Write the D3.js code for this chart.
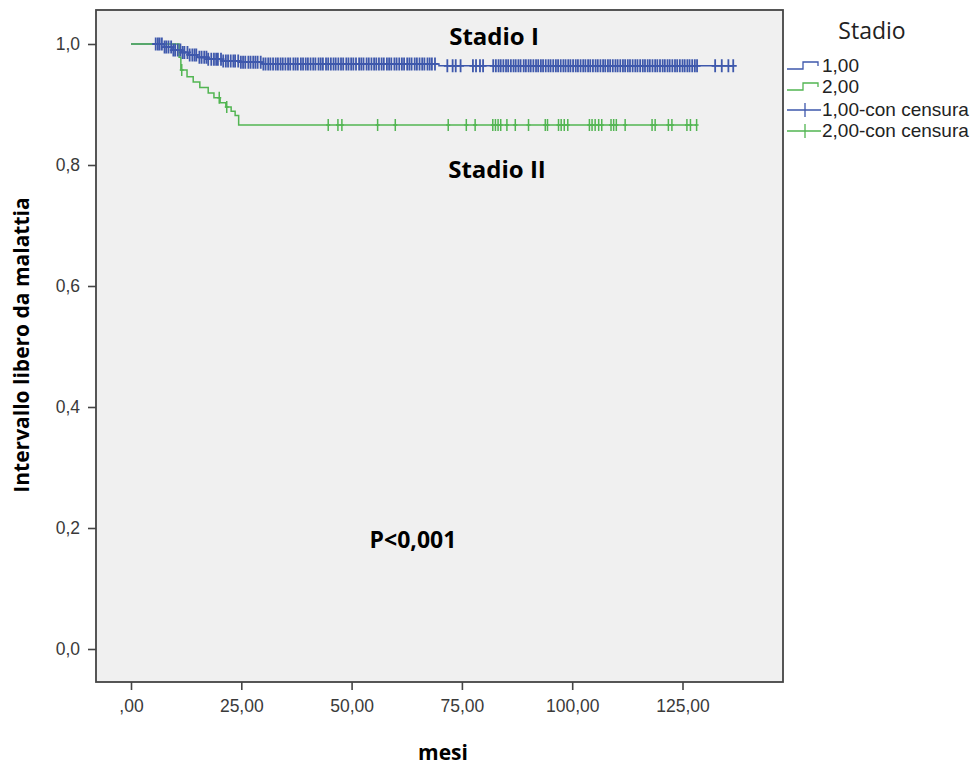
<html>
 <head>
 <title>Intervallo libero da malattia</title>
 <script src="https://d3js.org/d3.v7.min.js" charset="utf-8"></script>
<style>
body {
 margin: 0;
 background: white;
}
text {
 font-family: "Liberation Sans", Arial, sans-serif;
}
.bold {
 font-family: "Open Sans", sans-serif;
 font-weight: bold;
}
</style>
 </head>
 <body>
 <script>
   // stage I (blue) : survival steps [months, value]
   var stage1Steps = [[7.5,0.995],[9.5,0.990],[11.5,0.986],[13.0,0.982],[15.0,0.978],[17.5,0.975],[20.5,0.972],[24.5,0.970],[30.0,0.967],[69.8,0.964]];
   var stage1End = 136.5;
   var stage1Censored = [5.6,6.1,6.5,7.0,7.6,8.0,8.5,9.1,9.6,10.0,10.6,11.2,11.7,12.1,12.8,13.3,13.9,14.4,14.8,15.5,16.0,16.6,17.1,17.5,18.2,18.8,19.3,19.7,20.4,20.9,21.5,22.0,22.6,23.2,23.6,24.3,24.9,25.4,25.9,26.6,27.1,27.7,28.2,28.7,29.4,30.0,30.5,31.1,31.6,32.2,32.8,33.3,33.9,34.4,35.0,35.6,36.1,36.8,37.3,37.8,38.5,39.0,39.6,40.1,40.7,41.3,41.8,42.5,43.0,43.5,44.2,44.7,45.3,45.9,46.4,47.0,47.6,48.1,48.8,49.3,49.9,50.4,51.0,51.7,52.2,52.7,53.4,53.9,54.5,55.1,55.6,56.2,56.8,57.3,58.0,58.5,59.0,59.7,60.2,60.8,61.4,61.9,62.6,63.1,63.6,64.3,64.8,65.4,66.0,66.5,67.2,67.7,68.2,68.9,
     71.7,72.9,73.6,74.7,77.5,78.2,79.1,79.8,
     82.1,82.7,83.3,83.8,84.4,85.0,85.5,86.1,86.7,87.2,87.8,88.3,89.0,89.5,90.1,90.6,91.2,91.8,92.3,92.9,93.4,94.0,94.6,95.1,95.7,96.3,96.8,97.4,98.0,98.5,99.1,99.6,100.2,100.8,101.3,101.9,102.5,103.0,103.6,104.1,104.7,105.3,105.8,106.4,107.0,107.5,108.1,108.6,109.2,109.8,110.3,110.9,111.5,112.0,112.6,113.1,113.7,114.3,114.8,115.4,116.0,116.5,117.1,117.6,118.2,118.8,119.3,119.9,120.5,121.0,121.6,122.1,122.7,123.3,123.8,124.4,125.0,125.5,126.1,126.6,127.2,127.8,128.3,
     132.4,133.9,135.4,136.5];

   // stage II (green)
   var stage2Steps = [[10.9,0.978],[11.3,0.957],[12.7,0.946],[14.1,0.937],[15.6,0.928],[17.5,0.919],[18.8,0.911],[20.2,0.903],[21.5,0.896],[22.7,0.889],[23.6,0.882],[24.4,0.866]];
   var stage2End = 128.3;
   var stage2Censored = [11.5,20.0,21.7,44.7,46.9,47.8,55.9,59.9,71.9,76.0,78.0,82.0,82.6,83.2,83.8,85.2,87.1,90.1,93.9,94.4,96.9,97.5,98.2,99.0,103.9,104.5,105.2,106.0,106.7,108.8,109.4,110.0,112.0,118.1,118.8,121.8,122.6,126.0,126.8,128.2];

   var xTicks = [0,25,50,75,100,125];
   var xTickLabels = [",00","25,00","50,00","75,00","100,00","125,00"];
   var yTicks = [0,0.2,0.4,0.6,0.8,1.0];
   var yTickLabels = ["0,0","0,2","0,4","0,6","0,8","1,0"];
   var legendLabels = ["1,00","2,00","1,00-con censura","2,00-con censura"];

   var blue = "#3e58ac";
   var green = "#52b552";

   var width = 974;
   var height = 769;

   // plot frame (names avoid window.top)
   var frameL = 96, frameT = 10, frameR = 783, frameB = 682;

   var x = d3.scaleLinear().domain([0,125]).range([131,682.5]);
   var y = d3.scaleLinear().domain([0,1]).range([649,44]);

   var svg = d3.select( "body" )
    .append( "svg" )
    .attr( "width", width )
    .attr( "height", height );

   svg.append("rect")
    .attr("x", frameL).attr("y", frameT)
    .attr("width", frameR-frameL).attr("height", frameB-frameT)
    .attr("fill", "#f0f0f0")
    .attr("stroke", "#444")
    .attr("stroke-width", 1.8);

   // axes
   svg.append("g")
    .attr("transform", "translate(" + frameL + ",0)")
    .call(d3.axisLeft(y).tickValues(yTicks).tickSize(8).tickPadding(8)
      .tickFormat(function(d,i){ return yTickLabels[i]; }));
   svg.append("g")
    .attr("transform", "translate(0," + frameB + ")")
    .call(d3.axisBottom(x).tickValues(xTicks).tickSize(8).tickPadding(10)
      .tickFormat(function(d,i){ return xTickLabels[i]; }));
   svg.selectAll(".domain").remove();
   svg.selectAll(".tick line").attr("stroke", "#444").attr("stroke-width", 1.6);
   svg.selectAll(".tick text").attr("fill", "#3a3a3a").style("font-size", "17.5px")
    .style("font-family", "'Liberation Sans', Arial, sans-serif");

   // step function lookup
   function valueAt(steps, t) {
     var v = 1;
     steps.forEach(function(s){ if (s[0] <= t) v = s[1]; });
     return v;
   }
   function kmPoints(steps, end) {
     var pts = [[0,1]];
     steps.forEach(function(s){ pts.push([s[0], s[1]]); });
     pts.push([end, steps[steps.length-1][1]]);
     return pts;
   }

   var line = d3.line()
    .x(function(d){ return x(d[0]); })
    .y(function(d){ return y(d[1]); })
    .curve(d3.curveStepAfter);

   svg.append("path")
    .attr("d", line(kmPoints(stage1Steps, stage1End)))
    .attr("fill", "none").attr("stroke", blue).attr("stroke-width", 1.5);
   svg.append("path")
    .attr("d", line(kmPoints(stage2Steps, stage2End)))
    .attr("fill", "none").attr("stroke", green).attr("stroke-width", 1.5);

   // censor marks
   function censorMarks(times, steps, color, hw, hh, sw) {
     var g = svg.append("g").attr("stroke", color).attr("stroke-width", sw);
     g.selectAll("path")
      .data(times)
      .enter()
      .append("path")
      .attr("d", function(t){
        var cx = x(t), cy = y(valueAt(steps, t));
        return "M" + (cx-hw) + "," + cy + "H" + (cx+hw) + "M" + cx + "," + (cy-hh) + "V" + (cy+hh);
      });
   }
   censorMarks(stage1Censored, stage1Steps, blue, 3.5, 6.5, 1.8);
   censorMarks(stage2Censored, stage2Steps, green, 2, 6, 1.5);

   // annotations
   svg.append("text").attr("class","bold").attr("x", 494).attr("y", 45)
    .attr("text-anchor","middle").style("font-size","24px").text("Stadio I");
   svg.append("text").attr("class","bold").attr("x", 497).attr("y", 178)
    .attr("text-anchor","middle").style("font-size","24px").text("Stadio II");
   svg.append("text").attr("class","bold").attr("x", 413).attr("y", 548)
    .attr("text-anchor","middle").style("font-size","23px").text("P<0,001");

   // axis titles
   svg.append("text").attr("class","bold")
    .attr("transform", "translate(29,345) rotate(-90)")
    .attr("text-anchor","middle").style("font-size","21px").text("Intervallo libero da malattia");
   svg.append("text").attr("class","bold").attr("x", 443).attr("y", 760)
    .attr("text-anchor","middle").style("font-size","21px").text("mesi");

   // legend
   svg.append("text").attr("x", 872).attr("y", 39)
    .attr("text-anchor","middle")
    .style("font-family", "'Open Sans', sans-serif").style("font-size","23px")
    .attr("fill", "#222").text("Stadio");
   var legend = svg.append("g");
   var rows = [66, 87, 110, 131];
   var colors = [blue, green, blue, green];
   legendLabels.forEach(function(label, i){
     var ry = rows[i];
     if (i < 2) {
       legend.append("path")
        .attr("d", "M787," + (ry+3) + "H803V" + (ry-4) + "H818V" + ry)
        .attr("fill","none").attr("stroke", colors[i]).attr("stroke-width", 1.3);
     } else {
       legend.append("path")
        .attr("d", "M787," + ry + "H821M805," + (ry-7) + "V" + (ry+7))
        .attr("fill","none").attr("stroke", colors[i]).attr("stroke-width", 1.3);
     }
     legend.append("text").attr("x", 822).attr("y", ry + 6)
      .style("font-size","19px").attr("fill","#222").text(label);
   });
 </script>
 </body>
</html>
